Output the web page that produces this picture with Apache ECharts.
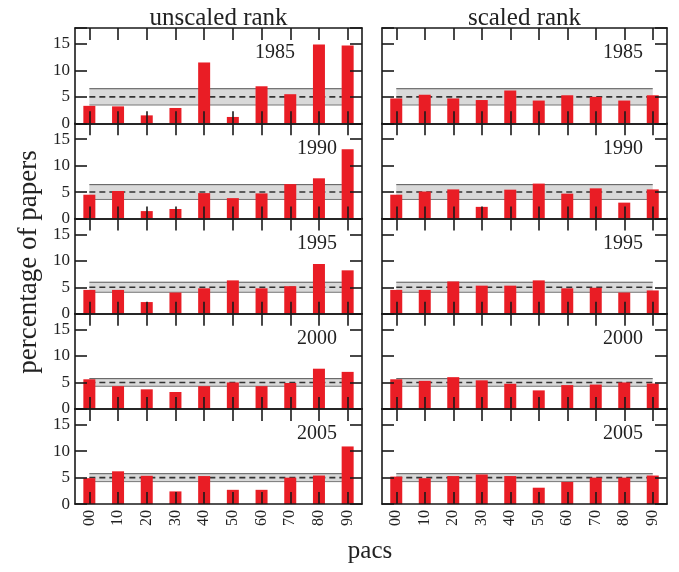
<!DOCTYPE html>
<html>
<head>
<meta charset="utf-8">
<script src="https://cdn.jsdelivr.net/npm/echarts@6/dist/echarts.min.js"></script>
<style>html,body{margin:0;padding:0;background:#fff}#c{width:679px;height:572px}</style>
</head>
<body>
<div id="c"></div>
<script>
// ---- data ----
const pacs = ['00','10','20','30','40','50','60','70','80','90'];
const years = ['1985','1990','1995','2000','2005'];
const columnTitles = ['unscaled rank','scaled rank'];
const yTicks = [0,5,10,15];

const unscaled1985 = [3.3,3.2,1.5,2.9,11.5,1.2,7.0,5.5,14.9,14.7];
const unscaled1990 = [4.5,5.2,1.4,1.8,4.8,3.85,4.75,6.5,7.6,13.1];
const unscaled1995 = [4.5,4.5,2.2,4.0,4.8,6.3,4.8,5.2,9.4,8.2];
const unscaled2000 = [5.6,4.3,3.7,3.2,4.3,5.0,4.3,4.9,7.6,7.0];
const unscaled2005 = [4.9,6.2,5.35,2.4,5.3,2.7,2.7,5.0,5.4,10.9];

const scaled1985 = [4.7,5.4,4.7,4.4,6.2,4.3,5.3,5.0,4.3,5.3];
const scaled1990 = [4.5,5.1,5.5,2.2,5.45,6.6,4.7,5.7,3.0,5.5];
const scaled1995 = [4.5,4.5,6.1,5.3,5.3,6.3,4.8,4.9,4.0,4.4];
const scaled2000 = [5.6,5.3,6.0,5.4,4.75,3.5,4.5,4.6,5.0,4.8];
const scaled2005 = [5.2,4.9,5.3,5.6,5.3,3.1,4.2,5.0,5.0,5.4];

const expectedShare = 5;
const bandHalfWidth = [1.54,1.4,0.95,0.72,0.75];
const bandStart = 0;
const bandEnd = [88, 90];

const unscaledRows = [unscaled1985,unscaled1990,unscaled1995,unscaled2000,unscaled2005];
const scaledRows = [scaled1985,scaled1990,scaled1995,scaled2000,scaled2005];
const columns = [unscaledRows, scaledRows];

// ---- layout ----
const colLeft = [75, 382];
const colWidth = [287, 285];
const rowTop0 = 28.1;
const rowH = 95.2;
const serif = 'Liberation Serif';
const ink = '#1a1a1a';

const grid = [], xAxis = [], yAxis = [], series = [], graphic = [];
let gi = 0;
for (let r = 0; r < 5; r++) {
  for (let c = 0; c < 2; c++) {
    grid.push({left: colLeft[c], top: rowTop0 + r*rowH, width: colWidth[c], height: rowH});
    const xb = xAxis.length, yb = yAxis.length;
    const tickStyle = {color: ink, width: 1.6};
    xAxis.push({gridIndex: gi, type: 'category', data: pacs, position: 'bottom', boundaryGap: true, z: 10,
      axisLine: {show: true, onZero: false, lineStyle: {color: ink, width: 1.6}},
      axisTick: {show: true, inside: true, length: 12, interval: 0, alignWithLabel: true, lineStyle: tickStyle},
      axisLabel: {show: r === 4, interval: 0, rotate: 90, fontFamily: serif, fontSize: 16, color: '#222', margin: 6},
      splitLine: {show: false}});
    xAxis.push({gridIndex: gi, type: 'category', data: pacs, position: 'top', boundaryGap: true, z: 10,
      axisLine: {show: true, onZero: false, lineStyle: {color: ink, width: 1.6}},
      axisTick: {show: true, inside: true, length: 12, interval: 0, alignWithLabel: true, lineStyle: tickStyle},
      axisLabel: {show: false}, splitLine: {show: false}});
    xAxis.push({gridIndex: gi, type: 'value', min: -5, max: 95, show: false,
      axisLine: {onZero: false}});
    yAxis.push({gridIndex: gi, type: 'value', min: 0, max: 18, interval: 5, position: 'left', z: 10,
      axisLine: {show: true, onZero: false, lineStyle: {color: ink, width: 1.6}},
      axisTick: {show: true, inside: true, length: 12, lineStyle: tickStyle},
      axisLabel: {show: c === 0, fontFamily: serif, fontSize: 17, color: '#222', margin: 5,
        formatter: v => yTicks.indexOf(v) >= 0 ? String(v) : ''},
      splitLine: {show: false}});
    yAxis.push({gridIndex: gi, type: 'value', min: 0, max: 18, interval: 5, position: 'right', z: 10,
      axisLine: {show: true, onZero: false, lineStyle: {color: ink, width: 1.6}},
      axisTick: {show: true, inside: true, length: 12, lineStyle: tickStyle},
      axisLabel: {show: false}, splitLine: {show: false}});

    const d = bandHalfWidth[r];
    const e = bandEnd[c];
    series.push({type: 'line', xAxisIndex: xb+2, yAxisIndex: yb, z: 1, symbol: 'none', silent: true,
      data: [[bandStart, expectedShare + d], [e, expectedShare + d]],
      lineStyle: {color: '#555', width: 1},
      markArea: {silent: true, itemStyle: {color: '#d9d9d9'},
        data: [[{xAxis: bandStart, yAxis: expectedShare - d}, {xAxis: e, yAxis: expectedShare + d}]]}});
    series.push({type: 'line', xAxisIndex: xb+2, yAxisIndex: yb, z: 1, symbol: 'none', silent: true,
      data: [[bandStart, expectedShare - d], [e, expectedShare - d]],
      lineStyle: {color: '#777', width: 1}});
    series.push({type: 'line', xAxisIndex: xb+2, yAxisIndex: yb, z: 1, symbol: 'none', silent: true,
      data: [[bandStart, expectedShare], [e, expectedShare]],
      lineStyle: {color: '#333', width: 1.6, type: [6, 4]}});
    series.push({type: 'bar', xAxisIndex: xb, yAxisIndex: yb, z: 3, barWidth: 12,
      data: columns[c][r], itemStyle: {color: '#e91d25'}});

    const labelRight = c === 0 ? (r === 0 ? 295 : 337) : 643;
    graphic.push({type: 'text', x: labelRight, y: rowTop0 + r*rowH + 25, z: 20,
      style: {text: years[r], font: '20px "Liberation Serif"', fill: '#222', align: 'right', verticalAlign: 'middle'}});
    gi++;
  }
}
graphic.push({type: 'text', x: 218.5, y: 18, style: {text: columnTitles[0], font: '25px "Liberation Serif"', fill: '#222', align: 'center', verticalAlign: 'middle'}});
graphic.push({type: 'text', x: 524.5, y: 18, style: {text: columnTitles[1], font: '25px "Liberation Serif"', fill: '#222', align: 'center', verticalAlign: 'middle'}});
graphic.push({type: 'text', x: 29, y: 262, rotation: Math.PI/2, style: {text: 'percentage of papers', font: '27px "Liberation Serif"', fill: '#222', align: 'center', verticalAlign: 'middle'}});
graphic.push({type: 'text', x: 370, y: 551, style: {text: 'pacs', font: '25px "Liberation Serif"', fill: '#222', align: 'center', verticalAlign: 'middle'}});

const chart = echarts.init(document.getElementById('c'));
chart.setOption({animation: false, grid, xAxis, yAxis, series, graphic});
</script>
</body>
</html>
